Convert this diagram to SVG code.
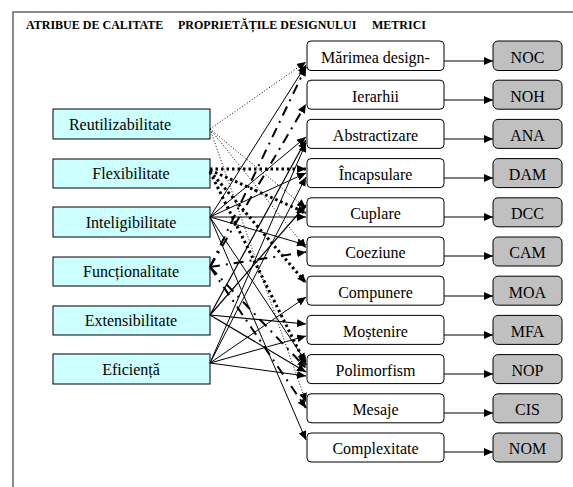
<svg xmlns="http://www.w3.org/2000/svg" width="573" height="487" viewBox="0 0 573 487">
<style>
text{font-family:"Liberation Serif","Times New Roman",serif;fill:#000}
.hdr{font-size:12px;font-weight:bold}
.lt{font-size:16px;text-anchor:middle}
.q rect{fill:#ccffff;stroke:#000;stroke-width:1}
.p rect{fill:#fff;stroke:#000;stroke-width:1}
.m rect{fill:#c0c0c0;stroke:#000;stroke-width:1}
.c line{stroke:#000;fill:none;marker-end:url(#ah)}
.reu{stroke-width:1;stroke-dasharray:1,2}
.flex{stroke-width:3;stroke-dasharray:2.5,3}
.fun{stroke-width:2;stroke-dasharray:10,6,2,6}
.int{stroke-width:1}
.ext{stroke-width:1.2}
.efi{stroke-width:1}
.pm{stroke-width:1}
</style>
<defs>
<marker id="ah" markerUnits="userSpaceOnUse" markerWidth="10" markerHeight="8" refX="9" refY="4" orient="auto">
<path d="M0,0 L9,4 L0,8 Z" fill="#000" stroke="none"/>
</marker>
</defs>
<rect x="0" y="0" width="573" height="487" fill="#fff"/>
<path d="M13,487 L13,12 L573,12" fill="none" stroke="#666" stroke-width="1.5"/>
<text class="hdr" x="26" y="29">ATRIBUE DE CALITATE</text>
<text class="hdr" x="178" y="29">PROPRIETĂȚILE DESIGNULUI</text>
<text class="hdr" x="372" y="29">METRICI</text>

<g id="q-reutilizabilitate" class="q"><rect x="53" y="109" width="157" height="30"/><text class="lt" x="120" y="130">Reutilizabilitate</text></g>
<g id="q-flexibilitate" class="q"><rect x="53" y="159" width="157" height="29"/><text class="lt" x="131" y="179">Flexibilitate</text></g>
<g id="q-inteligibilitate" class="q"><rect x="53" y="207" width="157" height="30"/><text class="lt" x="131" y="228">Inteligibilitate</text></g>
<g id="q-functionalitate" class="q"><rect x="53" y="257" width="157" height="29"/><text class="lt" x="131" y="277">Funcționalitate</text></g>
<g id="q-extensibilitate" class="q"><rect x="53" y="306" width="157" height="29"/><text class="lt" x="131" y="326">Extensibilitate</text></g>
<g id="q-eficienta" class="q"><rect x="53" y="354" width="157" height="30"/><text class="lt" x="131" y="375">Eficiență</text></g>

<g id="p-marimea" class="p"><rect x="307" y="41" width="137" height="29.5" rx="4"/><text class="lt" x="375.5" y="62.5">Mărimea design-</text></g>
<g id="p-ierarhii" class="p"><rect x="307" y="80.2" width="137" height="29" rx="4"/><text class="lt" x="375.5" y="101.5">Ierarhii</text></g>
<g id="p-abstractizare" class="p"><rect x="307" y="119.4" width="137" height="29" rx="4"/><text class="lt" x="375.5" y="140.5">Abstractizare</text></g>
<g id="p-incapsulare" class="p"><rect x="307" y="158.6" width="137" height="29" rx="4"/><text class="lt" x="375.5" y="179.5">Încapsulare</text></g>
<g id="p-cuplare" class="p"><rect x="307" y="197.8" width="137" height="29" rx="4"/><text class="lt" x="375.5" y="219">Cuplare</text></g>
<g id="p-coeziune" class="p"><rect x="307" y="237" width="137" height="29" rx="4"/><text class="lt" x="375.5" y="258">Coeziune</text></g>
<g id="p-compunere" class="p"><rect x="307" y="276.2" width="137" height="29" rx="4"/><text class="lt" x="375.5" y="297.5">Compunere</text></g>
<g id="p-mostenire" class="p"><rect x="307" y="315.4" width="137" height="29" rx="4"/><text class="lt" x="375.5" y="336.5">Moștenire</text></g>
<g id="p-polimorfism" class="p"><rect x="307" y="354.6" width="137" height="29" rx="4"/><text class="lt" x="375.5" y="375.5">Polimorfism</text></g>
<g id="p-mesaje" class="p"><rect x="307" y="393.8" width="137" height="29" rx="4"/><text class="lt" x="375.5" y="415">Mesaje</text></g>
<g id="p-complexitate" class="p"><rect x="307" y="433" width="137" height="29" rx="4"/><text class="lt" x="375.5" y="454">Complexitate</text></g>

<g id="m-noc" class="m"><rect x="493" y="41" width="69" height="29.5" rx="5"/><text class="lt" x="527.5" y="62.5">NOC</text></g>
<g id="m-noh" class="m"><rect x="493" y="80.2" width="69" height="29" rx="5"/><text class="lt" x="527.5" y="101.5">NOH</text></g>
<g id="m-ana" class="m"><rect x="493" y="119.4" width="69" height="29" rx="5"/><text class="lt" x="527.5" y="140.5">ANA</text></g>
<g id="m-dam" class="m"><rect x="493" y="158.6" width="69" height="29" rx="5"/><text class="lt" x="527.5" y="179.5">DAM</text></g>
<g id="m-dcc" class="m"><rect x="493" y="197.8" width="69" height="29" rx="5"/><text class="lt" x="527.5" y="219">DCC</text></g>
<g id="m-cam" class="m"><rect x="493" y="237" width="69" height="29" rx="5"/><text class="lt" x="527.5" y="258">CAM</text></g>
<g id="m-moa" class="m"><rect x="493" y="276.2" width="69" height="29" rx="5"/><text class="lt" x="527.5" y="297.5">MOA</text></g>
<g id="m-mfa" class="m"><rect x="493" y="315.4" width="69" height="29" rx="5"/><text class="lt" x="527.5" y="336.5">MFA</text></g>
<g id="m-nop" class="m"><rect x="493" y="354.6" width="69" height="29" rx="5"/><text class="lt" x="527.5" y="375.5">NOP</text></g>
<g id="m-cis" class="m"><rect x="493" y="393.8" width="69" height="29" rx="5"/><text class="lt" x="527.5" y="415">CIS</text></g>
<g id="m-nom" class="m"><rect x="493" y="433" width="69" height="29" rx="5"/><text class="lt" x="527.5" y="454">NOM</text></g>

<g id="connectors" class="c">
<!-- design properties to metrics -->
<line class="pm" x1="444" y1="61" x2="493" y2="61"/>
<line class="pm" x1="444" y1="100" x2="493" y2="100"/>
<line class="pm" x1="444" y1="139" x2="493" y2="139"/>
<line class="pm" x1="444" y1="178" x2="493" y2="178"/>
<line class="pm" x1="444" y1="217" x2="493" y2="217"/>
<line class="pm" x1="444" y1="256" x2="493" y2="256"/>
<line class="pm" x1="444" y1="296" x2="493" y2="296"/>
<line class="pm" x1="444" y1="335" x2="493" y2="335"/>
<line class="pm" x1="444" y1="374" x2="493" y2="374"/>
<line class="pm" x1="444" y1="413" x2="493" y2="413"/>
<line class="pm" x1="444" y1="452" x2="493" y2="452"/>
<!-- Reutilizabilitate -->
<line class="reu" x1="210" y1="129" x2="306" y2="62"/>
<line class="reu" x1="210" y1="129" x2="306" y2="208"/>
<line class="reu" x1="210" y1="129" x2="306" y2="248"/>
<line class="reu" x1="210" y1="129" x2="306" y2="402"/>
<!-- Flexibilitate -->
<line class="flex" x1="210" y1="169" x2="306" y2="169"/>
<line class="flex" x1="210" y1="170" x2="306" y2="213"/>
<line class="flex" x1="210" y1="171" x2="306" y2="283"/>
<line class="flex" x1="210" y1="172" x2="306" y2="365"/>
<!-- Inteligibilitate -->
<line class="int" x1="210" y1="217" x2="306" y2="65"/>
<line class="int" x1="210" y1="217" x2="306" y2="137"/>
<line class="int" x1="210" y1="217" x2="306" y2="173"/>
<line class="int" x1="210" y1="217" x2="306" y2="217"/>
<line class="int" x1="210" y1="217" x2="306" y2="245"/>
<line class="int" x1="210" y1="217" x2="306" y2="362"/>
<line class="int" x1="210" y1="217" x2="306" y2="440"/>
<!-- Functionalitate -->
<line class="fun" x1="210" y1="267" x2="306" y2="67"/>
<line class="fun" x1="210" y1="267" x2="306" y2="104"/>
<line class="fun" x1="210" y1="267" x2="306" y2="252"/>
<line class="fun" x1="210" y1="267" x2="306" y2="368"/>
<line class="fun" x1="210" y1="267" x2="306" y2="408"/>
<!-- Extensibilitate -->
<line class="ext" x1="210" y1="315" x2="306" y2="140"/>
<line class="ext" x1="210" y1="315" x2="306" y2="205"/>
<line class="ext" x1="210" y1="315" x2="306" y2="324"/>
<line class="ext" x1="210" y1="315" x2="306" y2="372"/>
<!-- Eficienta -->
<line class="efi" x1="210" y1="363" x2="306" y2="143"/>
<line class="efi" x1="210" y1="363" x2="306" y2="177"/>
<line class="efi" x1="210" y1="363" x2="306" y2="297"/>
<line class="efi" x1="210" y1="363" x2="306" y2="336"/>
<line class="efi" x1="210" y1="363" x2="306" y2="376"/>
</g>
</svg>
